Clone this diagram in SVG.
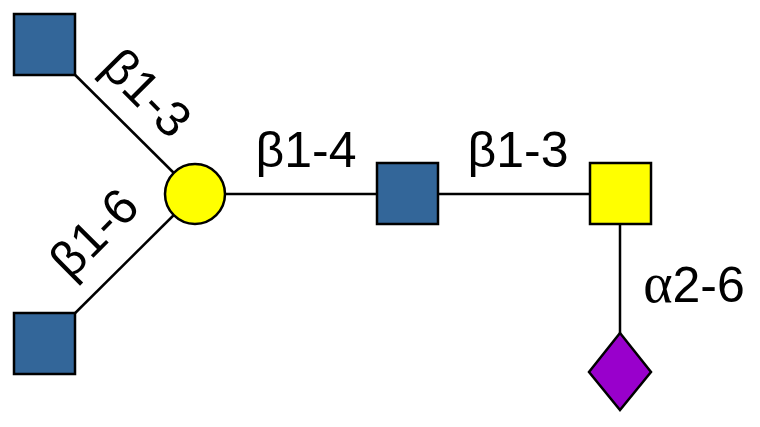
<svg xmlns="http://www.w3.org/2000/svg" width="760" height="427" viewBox="0 0 760 427">
<style>
.lbl{font-family:"Liberation Sans",Arial,sans-serif;font-size:50px;fill:#000}
.gr{font-family:"Liberation Serif","Times New Roman",serif;font-size:56px}
.edge{stroke:#000;stroke-width:2.5;fill:none}
.nd{stroke:#000;stroke-width:2.5}
</style>
<rect width="760" height="427" fill="#fff"/>
<g id="connectors">
<line class="edge" x1="44" y1="44" x2="195" y2="194"/>
<line class="edge" x1="44" y1="344" x2="195" y2="194"/>
<line class="edge" x1="195" y1="194" x2="408" y2="194"/>
<line class="edge" x1="408" y1="194" x2="620" y2="194"/>
<line class="edge" x1="620" y1="194" x2="620" y2="372"/>
</g>
<g id="labels">
<text class="lbl" transform="translate(147,93) rotate(45)" text-anchor="middle" y="17">β1-3</text>
<text class="lbl" transform="translate(94,233) rotate(-45)" text-anchor="middle" y="17">β1-6</text>
<text class="lbl" x="306" y="167" text-anchor="middle">β1-4</text>
<text class="lbl" x="518" y="167" text-anchor="middle">β1-3</text>
<text class="lbl" x="694" y="302" text-anchor="middle"><tspan class="gr">α</tspan>2-6</text>
</g>
<g id="node-glcnac-top"><rect class="nd" x="14" y="14" width="61" height="61" fill="#336699"/></g>
<g id="node-glcnac-bottom"><rect class="nd" x="14" y="313" width="61" height="61" fill="#336699"/></g>
<g id="node-gal"><circle class="nd" cx="195" cy="194" r="30" fill="#FFFF00"/></g>
<g id="node-glcnac-mid"><rect class="nd" x="377" y="163" width="61" height="61" fill="#336699"/></g>
<g id="node-galnac"><rect class="nd" x="590" y="163" width="61" height="61" fill="#FFFF00"/></g>
<g id="node-neuac"><polygon class="nd" points="620,333 651,372 620,410 589,372" fill="#9900CC"/></g>
</svg>
